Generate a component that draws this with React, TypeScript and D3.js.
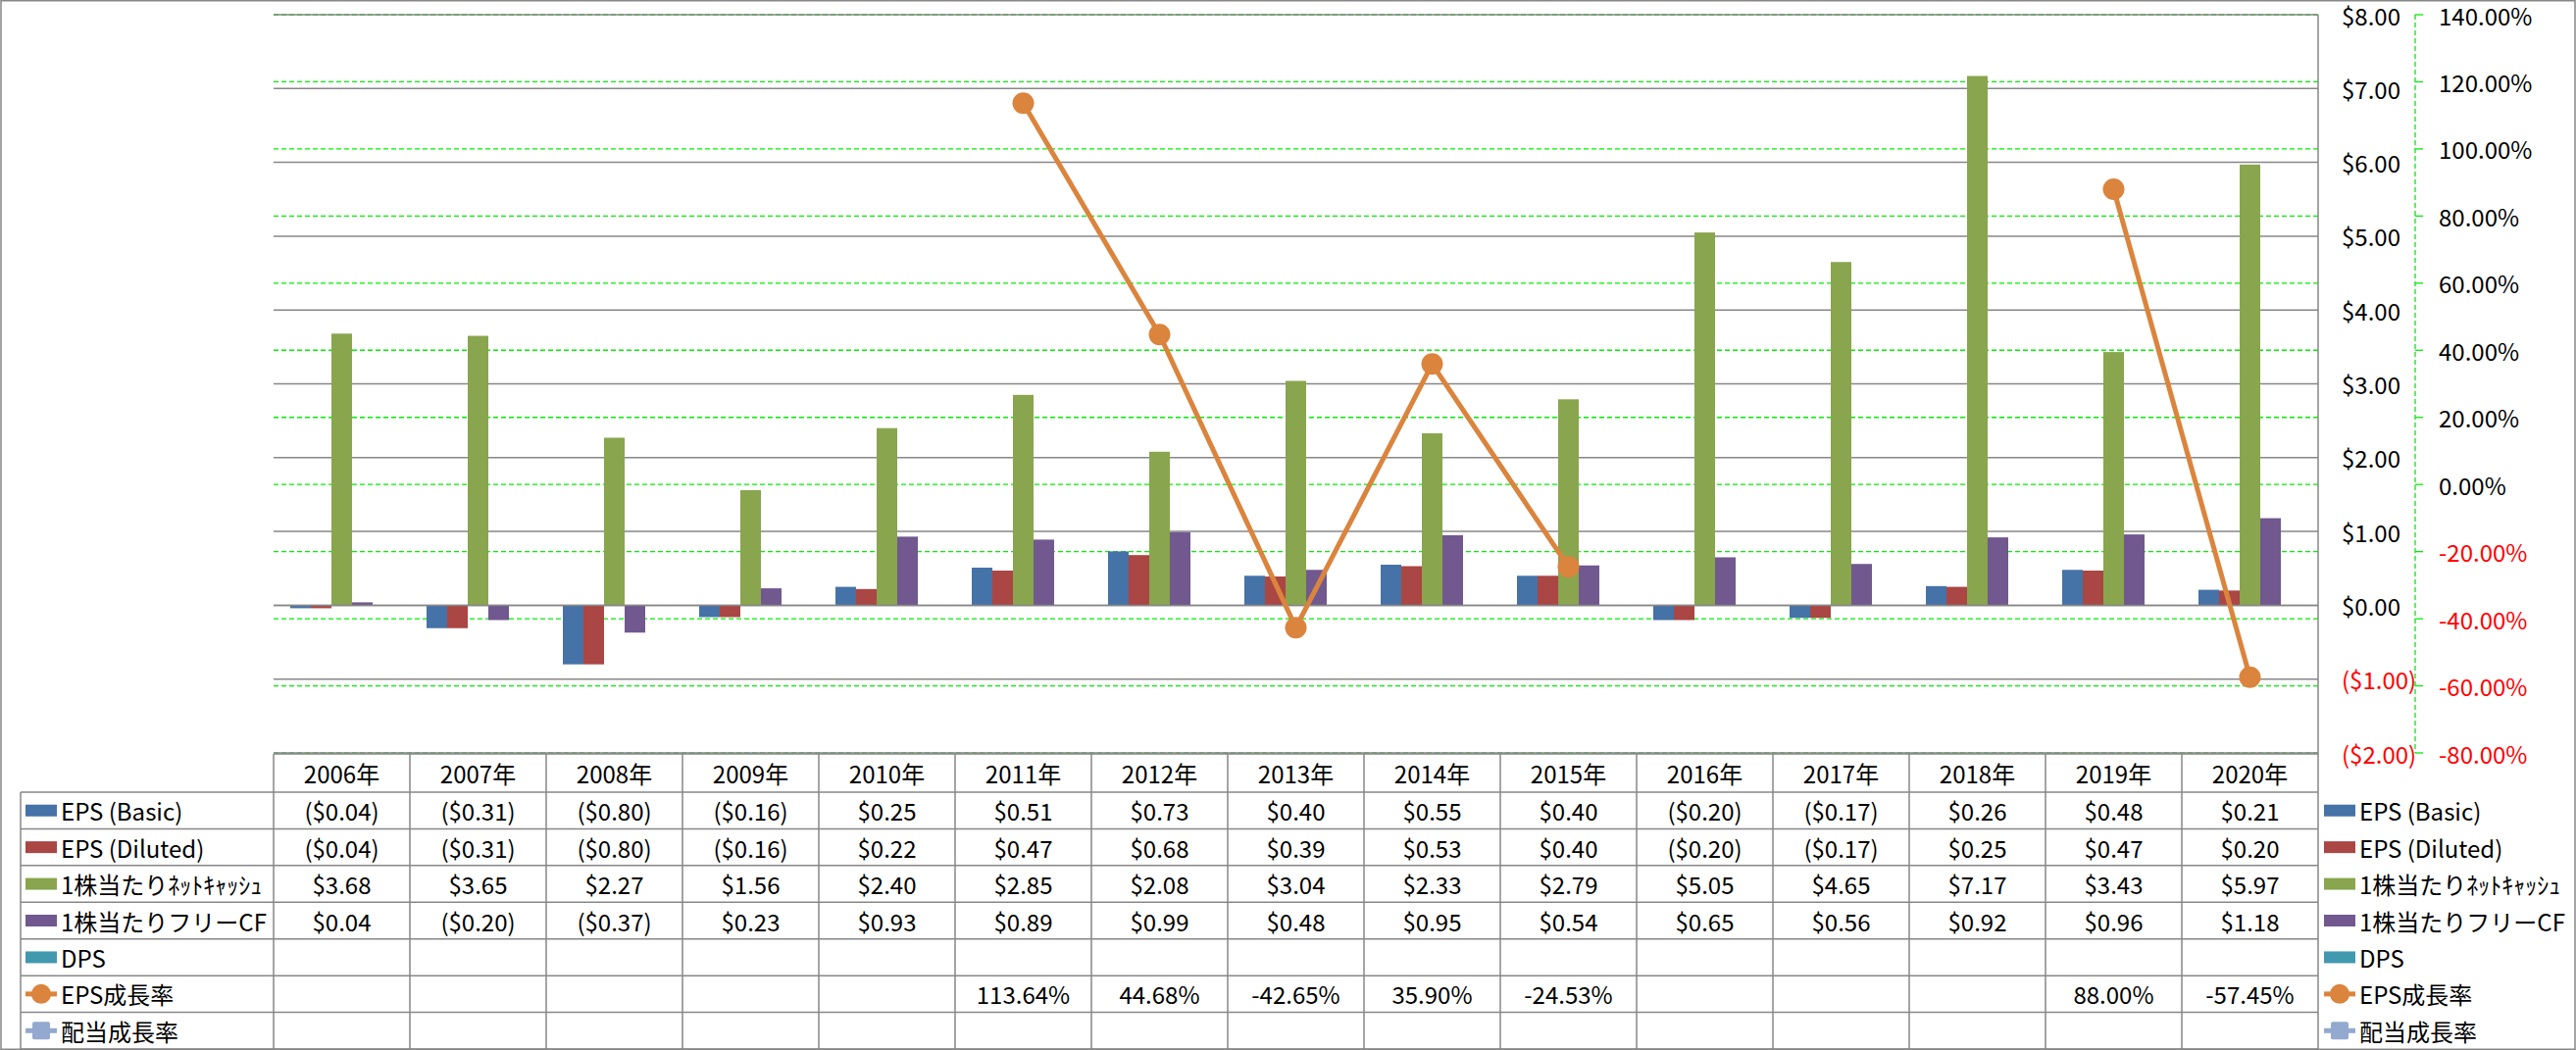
import React from "react";
import * as d3 from "d3";

const years = ["2006年","2007年","2008年","2009年","2010年","2011年","2012年","2013年","2014年","2015年","2016年","2017年","2018年","2019年","2020年"];
const epsBasic = [-0.04,-0.31,-0.80,-0.16,0.25,0.51,0.73,0.40,0.55,0.40,-0.20,-0.17,0.26,0.48,0.21];
const epsDiluted = [-0.04,-0.31,-0.80,-0.16,0.22,0.47,0.68,0.39,0.53,0.40,-0.20,-0.17,0.25,0.47,0.20];
const netCash = [3.68,3.65,2.27,1.56,2.40,2.85,2.08,3.04,2.33,2.79,5.05,4.65,7.17,3.43,5.97];
const freeCF = [0.04,-0.20,-0.37,0.23,0.93,0.89,0.99,0.48,0.95,0.54,0.65,0.56,0.92,0.96,1.18];
const dps: (number | null)[] = [null,null,null,null,null,null,null,null,null,null,null,null,null,null,null];
const epsGrowth: (number | null)[] = [null,null,null,null,null,113.64,44.68,-42.65,35.90,-24.53,null,null,null,88.00,-57.45];
const divGrowth: (number | null)[] = [null,null,null,null,null,null,null,null,null,null,null,null,null,null,null];
const primaryTicks = [8,7,6,5,4,3,2,1,0,-1,-2];
const secondaryTicks = [140,120,100,80,60,40,20,0,-20,-40,-60,-80];

const seriesNames = ["EPS (Basic)","EPS (Diluted)","1株当たりﾈｯﾄｷｬｯｼｭ","1株当たりフリーCF","DPS","EPS成長率","配当成長率"];
const colors = ["#4572A7","#AA4643","#89A54E","#71588F","#4198AF","#DB843D","#93A9CF"];

const W = 2627, H = 1071;
const plotL = 279, plotR = 2364, plotT = 15, plotB = 768;
const FONT = "'Noto Sans CJK JP', 'Noto Sans', sans-serif";
const GRID = "#878787";
const GREEN = "#00F000";

const fmtMoney = (v: number) => v < 0 ? `($${Math.abs(v).toFixed(2)})` : `$${v.toFixed(2)}`;
const fmtPct = (v: number) => `${v.toFixed(2)}%`;

export default function App() {
  const y = d3.scaleLinear().domain([-2, 8]).range([plotB, plotT]);
  const y2 = d3.scaleLinear().domain([-80, 140]).range([plotB, plotT]);
  const x0 = d3.scaleBand<string>().domain(years).range([plotL, plotR]).padding(0);
  const barSeries = [epsBasic, epsDiluted, netCash, freeCF, dps];
  const x1 = d3.scaleBand<number>().domain([0,1,2,3,4]).range([0, x0.bandwidth()]).paddingInner(0).paddingOuter(0.81);

  const line = d3.line<number | null>()
    .defined(d => d != null)
    .x((_, i) => (x0(years[i]) as number) + x0.bandwidth() / 2)
    .y(d => y2(d as number));

  const tableTop = 769, headerH = 39;
  const rowTop0 = tableTop + headerH;
  const rowH = (1070 - rowTop0) / 7;

  const rows: { vals: (number | null)[]; fmt: (v: number) => string }[] = [
    { vals: epsBasic, fmt: fmtMoney },
    { vals: epsDiluted, fmt: fmtMoney },
    { vals: netCash, fmt: fmtMoney },
    { vals: freeCF, fmt: fmtMoney },
    { vals: dps, fmt: fmtMoney },
    { vals: epsGrowth, fmt: fmtPct },
    { vals: divGrowth, fmt: fmtPct },
  ];

  const legendKey = (i: number, x: number, cy: number) => {
    if (i < 5) return <rect x={x} y={cy - 6} width={32} height={12} fill={colors[i]} />;
    if (i === 5) return (
      <g>
        <line x1={x} x2={x + 32} y1={cy} y2={cy} stroke={colors[5]} strokeWidth={5} />
        <circle cx={x + 16} cy={cy} r={10} fill={colors[5]} />
      </g>
    );
    return (
      <g>
        <line x1={x} x2={x + 32} y1={cy} y2={cy} stroke={colors[6]} strokeWidth={5} />
        <rect x={x + 7} y={cy - 9} width={18} height={18} rx={2} fill={colors[6]} />
      </g>
    );
  };

  return (
    <svg width={W} height={H} style={{ position: "absolute", left: 0, top: 0, background: "#fff" }} fontFamily={FONT}>
      <rect x={0} y={0} width={W} height={H} fill="#fff" />
      {/* secondary gridlines */}
      {secondaryTicks.map(t => (
        <line key={"g2" + t} x1={plotL} x2={plotR} y1={y2(t)} y2={y2(t)} stroke={GREEN} strokeWidth={1.3} strokeDasharray="5,3" />
      ))}
      {/* primary gridlines */}
      {primaryTicks.map(t => (
        <line key={"g1" + t} x1={plotL} x2={plotR} y1={y(t)} y2={y(t)} stroke={GRID} strokeWidth={1.5} />
      ))}
      {/* bars */}
      {barSeries.map((s, si) => (
        <g key={"s" + si} fill={colors[si]}>
          {s.map((v, i) => v == null ? null : (
            <rect key={i}
              x={(x0(years[i]) as number) + (x1(si) as number)}
              width={x1.bandwidth()}
              y={Math.min(y(v), y(0))}
              height={Math.abs(y(v) - y(0))} />
          ))}
        </g>
      ))}
      {/* zero axis line */}
      <line x1={plotL} x2={plotR} y1={y(0)} y2={y(0)} stroke={GRID} strokeWidth={1.5} />
      {/* line series */}
      <path d={line(epsGrowth) || ""} fill="none" stroke={colors[5]} strokeWidth={5} strokeLinejoin="round" />
      {epsGrowth.map((v, i) => v == null ? null : (
        <circle key={"m" + i} cx={(x0(years[i]) as number) + x0.bandwidth() / 2} cy={y2(v)} r={11} fill={colors[5]} />
      ))}
      {/* primary axis (right) */}
      <line x1={plotR} x2={plotR} y1={plotT} y2={1070} stroke={GRID} strokeWidth={1.5} />
      {primaryTicks.map(t => (
        <text key={"t1" + t} x={2388} y={y(t)} dominantBaseline="central" fontSize={24} fill={t < 0 ? "#FF0000" : "#000"}>{fmtMoney(t)}</text>
      ))}
      {/* secondary axis */}
      <line x1={2463} x2={2463} y1={plotT} y2={plotB} stroke={GREEN} strokeWidth={1.3} strokeDasharray="5,3" />
      {secondaryTicks.map(t => (
        <g key={"t2" + t}>
          <line x1={2463} x2={2471} y1={y2(t)} y2={y2(t)} stroke={GREEN} strokeWidth={1.3} />
          <text x={2487} y={y2(t)} dominantBaseline="central" fontSize={24} fill={t < 0 ? "#FF0000" : "#000"}>{fmtPct(t)}</text>
        </g>
      ))}
      {/* data table */}
      <g stroke={GRID} strokeWidth={1.5}>
        <line x1={plotL} x2={plotR} y1={tableTop} y2={tableTop} />
        {d3.range(8).map(r => (
          <line key={"h" + r} x1={21} x2={plotR} y1={rowTop0 + r * rowH} y2={rowTop0 + r * rowH} />
        ))}
        <line x1={21} x2={21} y1={rowTop0} y2={1070} />
        {years.map((yr, i) => (
          <line key={"v" + i} x1={x0(yr) as number} x2={x0(yr) as number} y1={tableTop} y2={1070} />
        ))}
      </g>
      {years.map(yr => (
        <text key={"hd" + yr} x={(x0(yr) as number) + x0.bandwidth() / 2} y={tableTop + headerH / 2} textAnchor="middle" dominantBaseline="central" fontSize={24} fill="#000">{yr}</text>
      ))}
      {rows.map((row, r) => {
        const cy = rowTop0 + r * rowH + rowH / 2;
        return (
          <g key={"r" + r}>
            {legendKey(r, 26, cy)}
            <text x={62} y={cy} dominantBaseline="central" fontSize={24} fill="#000">{seriesNames[r]}</text>
            {row.vals.map((v, i) => v == null ? null : (
              <text key={i} x={(x0(years[i]) as number) + x0.bandwidth() / 2} y={cy} textAnchor="middle" dominantBaseline="central" fontSize={24} fill="#000">{row.fmt(v)}</text>
            ))}
            {legendKey(r, 2370, cy)}
            <text x={2406} y={cy} dominantBaseline="central" fontSize={24} fill="#000">{seriesNames[r]}</text>
          </g>
        );
      })}
      {/* outer border */}
      <rect x={1} y={0.75} width={W - 2} height={H - 1.5} fill="none" stroke={GRID} strokeWidth={1.5} />
    </svg>
  );
}
